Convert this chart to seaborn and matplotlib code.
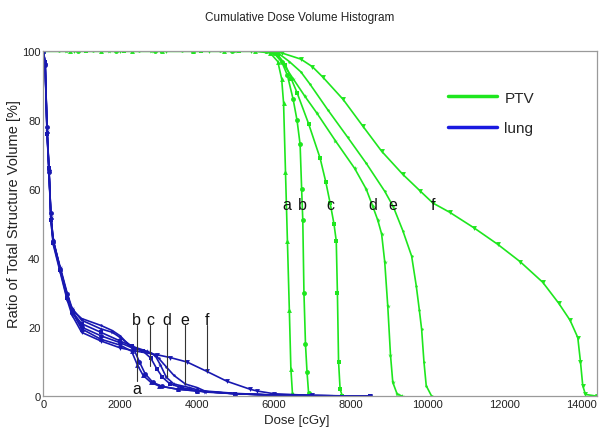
import matplotlib
matplotlib.use("Agg")
import matplotlib.pyplot as plt
from matplotlib.lines import Line2D
import pandas as pd
import seaborn as sns

# ---------------- data ----------------
ptv_a_x = [0, 700, 1500, 2300, 3100, 3900, 4700, 5500, 5900, 6100, 6200, 6250, 6300, 6350, 6400, 6440, 6480, 6550]
ptv_a_y = [100, 100, 100, 100, 100, 100, 100, 100, 99.5, 97, 92, 85, 65, 45, 25, 8, 1, 0]

ptv_b_x = [0, 900, 1900, 2900, 3900, 4900, 5800, 6000, 6200, 6350, 6500, 6600, 6680, 6720, 6750, 6780, 6820, 6860, 6900, 6950]
ptv_b_y = [100, 100, 100, 100, 100, 100, 100, 99.5, 97, 93, 86, 80, 73, 60, 51, 30, 15, 7, 1, 0]

ptv_c_x = [0, 1100, 2100, 3100, 4100, 5100, 5800, 6100, 6300, 6450, 6600, 6900, 7200, 7350, 7460, 7560, 7620, 7650, 7680, 7720, 7780]
ptv_c_y = [100, 100, 100, 100, 100, 100, 100, 99, 96, 92, 88, 79, 69, 62, 56, 50, 45, 30, 10, 2, 0]

ptv_d_x = [0, 600, 1700, 2800, 3900, 5000, 5800, 6000, 6200, 6500, 6800, 7120, 7600, 8100, 8400, 8570, 8700, 8800, 8880, 8960, 9030, 9090, 9200, 9330]
ptv_d_y = [100, 100, 100, 100, 100, 100, 100, 99.5, 97, 92, 87, 82, 74, 66, 60, 55, 51, 47, 39, 26, 12, 4, 0.7, 0]

ptv_e_x = [0, 400, 1300, 2500, 3600, 4600, 5800, 6100, 6400, 6700, 6940, 7400, 7920, 8400, 8880, 9100, 9350, 9580, 9700, 9780, 9840, 9900, 9960, 10100]
ptv_e_y = [100, 100, 100, 100, 100, 100, 100, 99.5, 97, 94, 90.4, 83, 75, 67.5, 59.4, 55, 48, 40.6, 32, 25, 19.4, 10, 3, 0]

ptv_f_x = [0, 800, 2000, 3200, 4300, 5400, 5800, 6200, 6700, 7000, 7270, 7800, 8310, 8800, 9350, 9800, 10130, 10570, 11200, 11820, 12400, 12990, 13400, 13700, 13900, 13970, 14030, 14100, 14400]
ptv_f_y = [100, 100, 100, 100, 100, 100, 100, 99.5, 97.7, 95.5, 92.5, 86, 78.3, 71, 64.3, 59.5, 56, 53.3, 48.8, 44, 39, 33, 27, 22, 17, 10, 3, 0.5, 0]

lung_a_x = [0, 50, 100, 150, 200, 260, 440, 620, 750, 1000, 1500, 2000, 2300, 2450, 2600, 2800, 3000, 3500, 4000, 5000, 6000, 7000, 8500]
lung_a_y = [100, 97, 77, 66, 52, 45, 37, 29, 24.5, 19.5, 16.5, 14.8, 13, 9, 6, 4, 3, 2, 1.5, 0.7, 0.3, 0.15, 0]

lung_b_x = [0, 50, 100, 150, 200, 260, 440, 620, 750, 1000, 1500, 2000, 2350, 2500, 2650, 2850, 3100, 3500, 4000, 5000, 6000, 7000, 8500]
lung_b_y = [100, 96, 78, 65, 53, 45, 37, 29.5, 25, 20, 17.5, 15.5, 13.8, 10, 6.5, 4, 2.8, 2, 1.5, 0.7, 0.3, 0.15, 0]

lung_c_x = [0, 50, 100, 150, 200, 260, 440, 620, 750, 1000, 1500, 2000, 2300, 2600, 2800, 2950, 3100, 3300, 3600, 4000, 5000, 6000, 7000, 8500]
lung_c_y = [100, 97, 76, 66, 51, 44.5, 36.5, 28.5, 24.5, 21, 18.5, 16, 14.5, 13, 11, 8, 5.5, 3.5, 2.5, 1.5, 0.7, 0.3, 0.15, 0]

lung_d_x = [0, 50, 100, 150, 200, 260, 440, 620, 750, 1000, 1500, 1800, 2000, 2300, 2700, 2900, 3050, 3200, 3400, 3800, 4200, 5000, 6000, 7000, 8500]
lung_d_y = [100, 96, 77, 65, 52, 45, 37.5, 30, 25.5, 22, 19.5, 18.5, 17, 14.5, 13, 12, 9, 5.5, 3.5, 2.5, 1.2, 0.7, 0.3, 0.15, 0]

lung_e_x = [0, 50, 100, 150, 200, 260, 440, 620, 750, 1000, 1500, 1800, 2000, 2300, 2800, 3000, 3200, 3400, 3700, 4000, 4200, 5000, 6000, 7000, 8500]
lung_e_y = [100, 97, 78, 66, 52, 45.5, 37, 29.5, 25, 22.5, 20.5, 19, 17.5, 14, 12.5, 11, 8.5, 6, 3.5, 2.5, 1.5, 0.8, 0.3, 0.15, 0]

lung_f_x = [0, 50, 100, 150, 200, 260, 440, 620, 750, 1000, 1500, 2000, 2340, 2960, 3300, 3740, 4250, 4780, 5380, 5560, 6000, 7000, 8500]
lung_f_y = [100, 96, 76, 65, 51, 44, 36, 28, 23.5, 18.5, 16, 14, 13.2, 12, 11.2, 9.9, 7.2, 4.3, 2, 1.5, 0.7, 0.2, 0]

curve_letters = ["a", "b", "c", "d", "e", "f"]
curve_markers = ["^", "o", "s", "*", ".", "v"]

ptv_label_x = [6330, 6750, 7480, 8570, 9090, 10130]
ptv_label_y = 55.5
lung_label_x = [2433, 2433, 2780, 3210, 3690, 4250]
lung_label_y = [2.3, 22.3, 22.3, 22.3, 22.3, 22.3]
lung_pointer_end = [4.5, 4.5, 8.7, 5.5, 3.5, 7.2]

title = "Cumulative Dose Volume Histogram"
x_label = "Dose [cGy]"
y_label = "Ratio of Total Structure Volume [%]"
x_ticks = [0, 2000, 4000, 6000, 8000, 10000, 12000, 14000]
y_ticks = [0, 20, 40, 60, 80, 100]

GREEN = "#1ee61e"
BLUE = "#1818b0"

# ---------------- build frames ----------------
ptv_series = [(ptv_a_x, ptv_a_y), (ptv_b_x, ptv_b_y), (ptv_c_x, ptv_c_y),
              (ptv_d_x, ptv_d_y), (ptv_e_x, ptv_e_y), (ptv_f_x, ptv_f_y)]
lung_series = [(lung_a_x, lung_a_y), (lung_b_x, lung_b_y), (lung_c_x, lung_c_y),
               (lung_d_x, lung_d_y), (lung_e_x, lung_e_y), (lung_f_x, lung_f_y)]


def make_df(series, struct):
    rows = []
    for letter, (xs, ys) in zip(curve_letters, series):
        for x, y in zip(xs, ys):
            rows.append({"curve": f"{struct} {letter}", "dose": x, "volume": y})
    return pd.DataFrame(rows)


df_ptv = make_df(ptv_series, "PTV")
df_lung = make_df(lung_series, "lung")

# ---------------- plot ----------------
sns.set_theme(style="white")
plt.rcParams["font.family"] = ["Liberation Sans", "DejaVu Sans"]

fig = plt.figure(figsize=(6.0, 4.35), dpi=100)
ax = fig.add_axes([0.072, 0.087, 0.923, 0.793])

for df, col, struct in [(df_ptv, GREEN, "PTV"), (df_lung, BLUE, "lung")]:
    names = [f"{struct} {l}" for l in curve_letters]
    sns.lineplot(data=df, x="dose", y="volume", hue="curve", style="curve",
                 hue_order=names, style_order=names,
                 palette={n: col for n in names},
                 markers={n: m for n, m in zip(names, curve_markers)},
                 dashes=False, estimator=None, sort=False, legend=False,
                 linewidth=1.2, markersize=3.5, markeredgewidth=0, ax=ax)

# PTV letters
for lx, letter in zip(ptv_label_x, curve_letters):
    ax.text(lx, ptv_label_y, letter, ha="center", va="center",
            fontsize=11.5, color="#111111")

# lung letters with pointer lines
for lx, ly, end, letter in zip(lung_label_x, lung_label_y, lung_pointer_end, curve_letters):
    ax.text(lx, ly, letter, ha="center", va="center",
            fontsize=11.5, color="#111111")
    if letter != "a":
        ax.plot([lx, lx], [ly - 1.8, end], color="#333333", lw=0.8)

ax.set_xlim(0, 14400)
ax.set_ylim(0, 100)
ax.set_xticks(x_ticks)
ax.set_yticks(y_ticks)
ax.set_xticklabels([str(t) for t in x_ticks], fontsize=8, color="#222222")
ax.set_yticklabels([str(t) for t in y_ticks], fontsize=8, color="#222222")
ax.tick_params(axis="both", length=0, pad=2)

for sp in ax.spines.values():
    sp.set_color("#9a9a9a")
    sp.set_linewidth(0.9)

ax.set_xlabel(x_label, fontsize=9.5, color="#222222")
ax.xaxis.set_label_coords(0.458, -0.052)
ax.xaxis.label.set_va("top")
ax.set_ylabel(y_label, fontsize=10.5, color="#222222")
ax.yaxis.set_label_coords(-0.04, 0.53)

fig.text(0.5, 0.959, title, ha="center", va="center", fontsize=8.5, color="#222222")

handles = [Line2D([0], [0], color=GREEN, lw=2.5), Line2D([0], [0], color="#1a1ae0", lw=2.5)]
ax.legend(handles, ["PTV", "lung"], loc="upper left", bbox_to_anchor=(0.706, 0.925),
          frameon=False, handlelength=3.2, handletextpad=0.5,
          labelspacing=1.05, prop={"size": 11})

fig.savefig("out.png", dpi=100)
